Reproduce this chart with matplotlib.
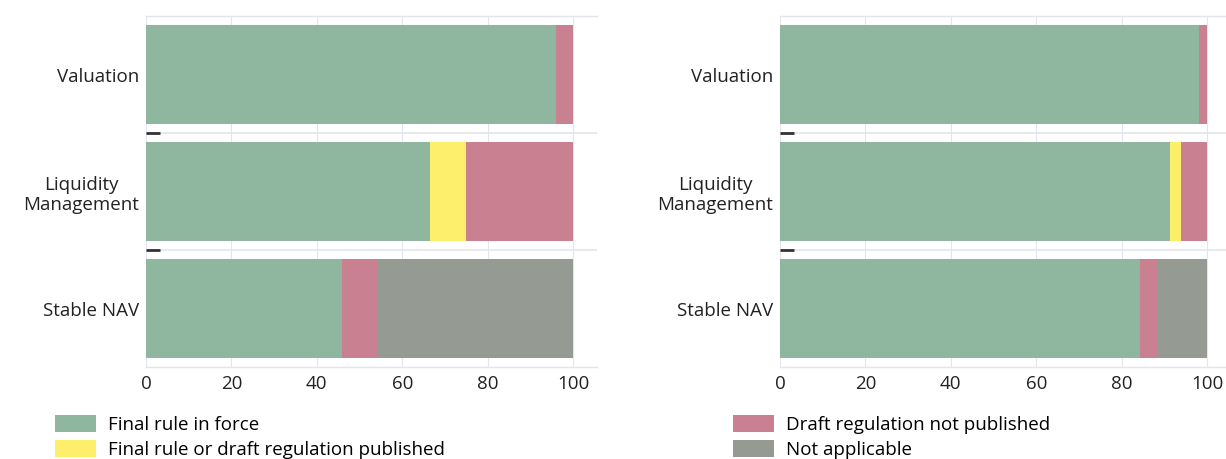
import matplotlib.pyplot as plt
from matplotlib.patches import Patch

plt.rcParams['font.family'] = ['Open Sans', 'DejaVu Sans']

categories = ['Valuation', 'Liquidity\nManagement', 'Stable NAV']
series = ['Final rule in force', 'Final rule or draft regulation published',
          'Draft regulation not published', 'Not applicable']
colors = ['#8fb69e', '#fdef6c', '#c98191', '#959b93']

# left panel values (percent)
left_vals = [
    [96.0, 66.5, 45.8],   # final rule in force
    [0.0, 8.5, 0.0],      # final rule or draft published
    [4.0, 25.0, 8.3],     # draft not published
    [0.0, 0.0, 45.9],     # not applicable
]
# right panel values (percent)
right_vals = [
    [98.0, 91.4, 84.2],
    [0.0, 2.4, 0.0],
    [2.0, 6.2, 4.4],
    [0.0, 0.0, 11.4],
]
xticks = [0, 20, 40, 60, 80, 100]

fig = plt.figure(figsize=(12.26, 4.59), dpi=100)
ax1 = fig.add_axes([146 / 1226, 0.2004, 451 / 1226, 0.7647])
ax2 = fig.add_axes([780 / 1226, 0.2004, 451 / 1226, 0.7647])


def draw(ax, vals):
    y = list(range(len(categories)))
    left = [0.0] * len(categories)
    for s, v in enumerate(vals):
        ax.barh(y, v, left=left, height=0.84, color=colors[s], zorder=2)
        left = [a + b for a, b in zip(left, v)]
    ax.set_xlim(0, 105.6)
    ax.set_ylim(2.5, -0.5)
    ax.set_xticks(xticks)
    ax.set_yticks(y)
    ax.set_yticklabels(categories, fontsize=13.5, color='#222222')
    for lab in ax.get_yticklabels():
        lab.set_multialignment('center')
    ax.tick_params(axis='y', which='major', length=0, pad=5, labelsize=13.5, colors='#222222')
    ax.tick_params(axis='x', which='major', length=0, pad=6, labelsize=13.5, colors='#222222')
    ax.set_yticks([0.5, 1.5], minor=True)
    ax.tick_params(axis='y', which='minor', direction='in', length=10, width=2, color='#333333')
    for xv in xticks:
        ax.axvline(xv, color='#e4e4ec', lw=0.8, zorder=1)
    for yv in [0.5, 1.5]:
        ax.axhline(yv, color='#e4e4ec', lw=1.2, zorder=1)
    ax.spines['left'].set_visible(False)
    ax.spines['right'].set_visible(False)
    for side in ['top', 'bottom']:
        ax.spines[side].set_color('#e4e4ec')
        ax.spines[side].set_linewidth(1.0)


draw(ax1, left_vals)
draw(ax2, right_vals)

h = [Patch(facecolor=c, edgecolor='none') for c in colors]
leg_kw = dict(loc='upper left', frameon=False, fontsize=13.5, handlelength=2.2,
              handleheight=1.0, labelspacing=0.3, handletextpad=0.6,
              borderaxespad=0, borderpad=0)
fig.legend(h[:2], series[:2], bbox_to_anchor=(0.045, 0.095), **leg_kw)
fig.legend(h[2:], series[2:], bbox_to_anchor=(0.598, 0.095), **leg_kw)

fig.savefig('out.png', dpi=100)
